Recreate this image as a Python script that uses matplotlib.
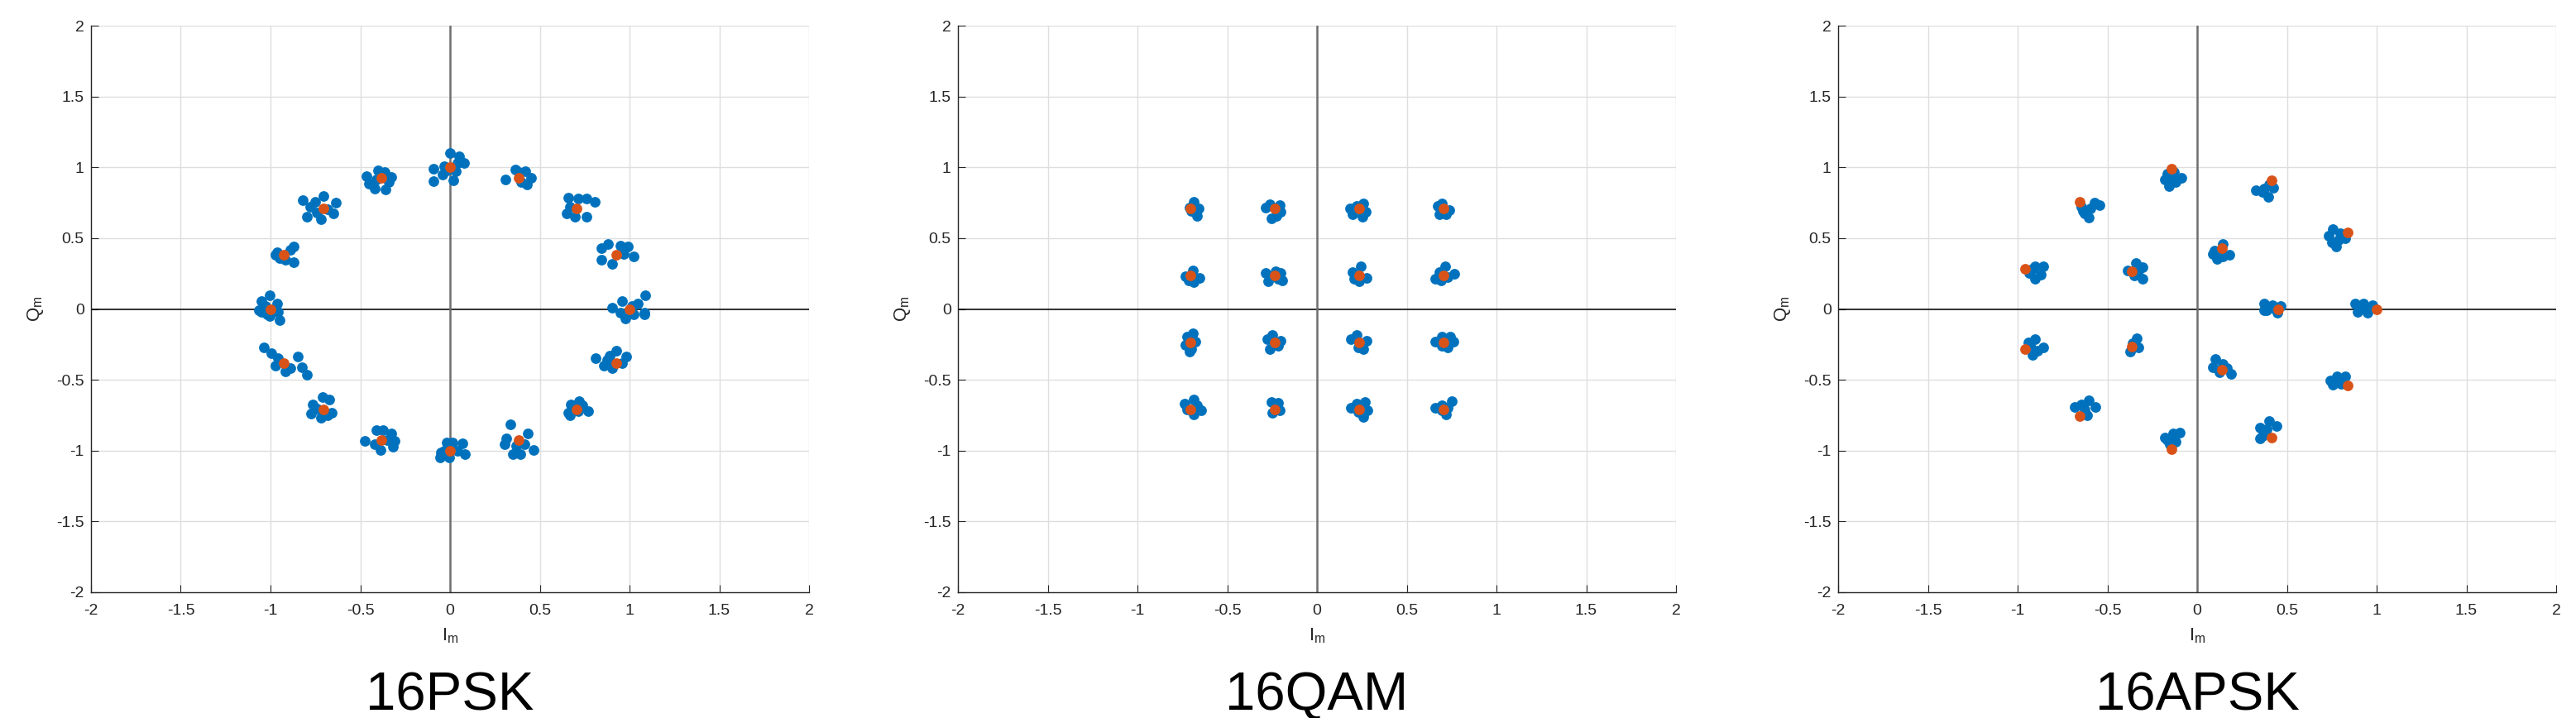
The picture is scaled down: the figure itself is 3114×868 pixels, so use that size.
import matplotlib
matplotlib.use("Agg")
import matplotlib.pyplot as plt

plt.rcParams['font.family'] = ['Liberation Sans', 'DejaVu Sans']
plt.rcParams['mathtext.default'] = 'regular'

# ---- data ----
panel_titles = ["16PSK", "16QAM", "16APSK"]
tick_values = [-2, -1.5, -1, -0.5, 0, 0.5, 1, 1.5, 2]
tick_labels = ["-2", "-1.5", "-1", "-0.5", "0", "0.5", "1", "1.5", "2"]

# 16PSK received samples (I, Q)
psk_rx = [
    # 90 deg
    (0.00, 1.10), (0.05, 1.08), (0.08, 1.03), (0.04, 1.03), (-0.03, 1.01), (-0.09, 0.99),
    (-0.04, 0.95), (0.02, 0.91), (-0.09, 0.90), (-0.02, 0.98), (0.03, 0.97),
    # 112.5 deg
    (-0.465, 0.938), (-0.403, 0.977), (-0.365, 0.969), (-0.329, 0.930), (-0.342, 0.895),
    (-0.360, 0.841), (-0.419, 0.847), (-0.450, 0.886), (-0.411, 0.915), (-0.373, 0.944),
    # 135 deg
    (-0.819, 0.769), (-0.750, 0.755), (-0.704, 0.798), (-0.634, 0.749), (-0.650, 0.672),
    (-0.719, 0.633), (-0.796, 0.652), (-0.781, 0.720), (-0.680, 0.701), (-0.742, 0.681),
    # 157.5 deg
    (-0.965, 0.399), (-0.950, 0.360), (-0.873, 0.438), (-0.888, 0.418), (-0.873, 0.331),
    (-0.919, 0.350), (-0.973, 0.380),
    # 180 deg
    (-1.004, 0.097), (-1.050, 0.058), (-0.965, 0.039), (-1.065, -0.010), (-0.958, -0.020),
    (-1.050, -0.020), (-1.004, -0.049), (-0.950, -0.078), (-1.020, -0.040), (-1.027, 0.020),
    # 202.5 deg
    (-1.035, -0.272), (-0.996, -0.311), (-0.973, -0.399), (-0.919, -0.438), (-0.850, -0.337),
    (-0.827, -0.409), (-0.796, -0.463), (-0.958, -0.350), (-0.888, -0.418),
    # 225 deg
    (-0.765, -0.672), (-0.711, -0.623), (-0.673, -0.642), (-0.657, -0.730), (-0.719, -0.769),
    (-0.773, -0.740), (-0.742, -0.701), (-0.681, -0.749),
    # 247.5 deg
    (-0.473, -0.931), (-0.411, -0.853), (-0.373, -0.857), (-0.326, -0.880), (-0.311, -0.934),
    (-0.319, -0.973), (-0.388, -0.993), (-0.419, -0.954), (-0.350, -0.925),
    # 270 deg
    (-0.057, -1.051), (-0.018, -0.944), (0.012, -0.944), (0.071, -0.950), (0.082, -1.022),
    (0.043, -1.002), (-0.034, -1.002), (-0.003, -1.051), (-0.049, -1.012),
    # 292.5 deg
    (0.336, -0.812), (0.313, -0.911), (0.305, -0.954), (0.351, -1.022), (0.390, -1.022),
    (0.431, -0.880), (0.467, -0.993), (0.413, -0.954), (0.367, -0.964),
    # 315 deg
    (0.659, -0.730), (0.674, -0.672), (0.721, -0.652), (0.770, -0.720), (0.736, -0.681),
    (0.667, -0.749), (0.713, -0.720),
    # 337.5 deg
    (0.813, -0.346), (0.859, -0.399), (0.890, -0.331), (0.928, -0.292), (0.982, -0.335),
    (0.959, -0.380), (0.905, -0.418), (0.874, -0.360),
    # 0 deg
    (0.905, 0.010), (0.959, 0.058), (1.044, 0.039), (1.087, 0.097), (1.082, -0.029),
    (1.013, 0.019), (0.975, -0.068), (1.021, -0.039), (1.082, -0.039), (0.951, -0.029),
    # 22.5 deg
    (0.844, 0.432), (0.882, 0.457), (0.951, 0.448), (0.990, 0.438), (1.021, 0.370),
    (0.902, 0.321), (0.844, 0.346), (0.967, 0.389),
    # 45 deg
    (0.659, 0.788), (0.713, 0.779), (0.759, 0.779), (0.805, 0.759), (0.759, 0.652),
    (0.697, 0.652), (0.651, 0.672), (0.667, 0.720),
    # 67.5 deg
    (0.309, 0.911), (0.366, 0.983), (0.420, 0.973), (0.451, 0.925), (0.428, 0.876),
    (0.397, 0.895), (0.382, 0.964),
]
psk_ref = [
    (1.000, 0.000), (0.924, 0.383), (0.707, 0.707), (0.383, 0.924),
    (0.000, 1.000), (-0.383, 0.924), (-0.707, 0.707), (-0.924, 0.383),
    (-1.000, 0.000), (-0.924, -0.383), (-0.707, -0.707), (-0.383, -0.924),
    (0.000, -1.000), (0.383, -0.924), (0.707, -0.707), (0.924, -0.383),
]

# 16QAM received samples (I, Q)
qam_rx = [
    (-0.687, 0.756), (-0.657, 0.708), (-0.670, 0.656), (-0.700, 0.690), (-0.708, 0.717),
    (-0.286, 0.717), (-0.263, 0.736), (-0.209, 0.733), (-0.201, 0.688), (-0.224, 0.659), (-0.255, 0.640),
    (0.183, 0.707), (0.198, 0.669), (0.252, 0.649), (0.270, 0.688), (0.260, 0.746), (0.221, 0.727),
    (0.674, 0.727), (0.697, 0.746), (0.736, 0.698), (0.720, 0.669), (0.682, 0.669), (0.705, 0.700),
    (-0.731, 0.233), (-0.693, 0.271), (-0.654, 0.217), (-0.685, 0.190), (-0.716, 0.203),
    (-0.286, 0.252), (-0.270, 0.194), (-0.201, 0.252), (-0.194, 0.203), (-0.232, 0.267), (-0.217, 0.213),
    (0.198, 0.262), (0.244, 0.300), (0.275, 0.217), (0.237, 0.194), (0.206, 0.213),
    (0.659, 0.213), (0.682, 0.262), (0.713, 0.300), (0.767, 0.248), (0.728, 0.223), (0.690, 0.203),
    (-0.724, -0.194), (-0.693, -0.174), (-0.677, -0.233), (-0.700, -0.281), (-0.731, -0.252), (-0.708, -0.300),
    (-0.278, -0.213), (-0.247, -0.184), (-0.201, -0.223), (-0.217, -0.262), (-0.263, -0.281),
    (0.190, -0.213), (0.221, -0.184), (0.275, -0.223), (0.260, -0.281), (0.229, -0.271),
    (0.659, -0.233), (0.697, -0.194), (0.743, -0.194), (0.759, -0.233), (0.728, -0.271), (0.697, -0.262),
    (-0.739, -0.669), (-0.685, -0.640), (-0.647, -0.717), (-0.685, -0.746), (-0.724, -0.707), (-0.670, -0.678),
    (-0.255, -0.659), (-0.217, -0.663), (-0.209, -0.717), (-0.247, -0.733), (-0.232, -0.688),
    (0.190, -0.698), (0.221, -0.669), (0.267, -0.659), (0.283, -0.717), (0.260, -0.760), (0.229, -0.727),
    (0.659, -0.698), (0.697, -0.678), (0.751, -0.649), (0.728, -0.698), (0.720, -0.746), (0.697, -0.717),
]
qam_ref = [
    (-0.707, 0.707), (-0.236, 0.707), (0.236, 0.707), (0.707, 0.707),
    (-0.707, 0.236), (-0.236, 0.236), (0.236, 0.236), (0.707, 0.236),
    (-0.707, -0.236), (-0.236, -0.236), (0.236, -0.236), (0.707, -0.236),
    (-0.707, -0.707), (-0.236, -0.707), (0.236, -0.707), (0.707, -0.707),
]

# 16APSK received samples (I, Q)
apsk_rx = [
    (-0.166, 0.955), (-0.128, 0.965), (-0.089, 0.926), (-0.120, 0.897), (-0.158, 0.867),
    (-0.181, 0.916), (-0.143, 0.926),
    (0.326, 0.838), (0.372, 0.848), (0.426, 0.858), (0.395, 0.789), (0.403, 0.877), (0.364, 0.828),
    (-0.643, 0.721), (-0.573, 0.750), (-0.543, 0.731), (-0.627, 0.673), (-0.604, 0.643),
    (-0.596, 0.711), (-0.635, 0.692),
    (0.733, 0.517), (0.756, 0.565), (0.795, 0.536), (0.826, 0.497), (0.772, 0.439),
    (0.749, 0.468), (0.787, 0.487),
    (0.095, 0.409), (0.141, 0.458), (0.180, 0.380), (0.111, 0.351), (0.141, 0.370), (0.088, 0.390),
    (-0.935, 0.253), (-0.904, 0.302), (-0.858, 0.302), (-0.873, 0.244), (-0.904, 0.214), (-0.919, 0.283),
    (-0.389, 0.273), (-0.343, 0.322), (-0.304, 0.292), (-0.304, 0.214), (-0.350, 0.234), (-0.327, 0.273),
    (0.372, 0.039), (0.418, 0.029), (0.464, 0.019), (0.387, -0.010), (0.441, -0.010),
    (0.410, 0.010), (0.372, -0.010), (0.449, -0.029),
    (0.879, 0.039), (0.925, 0.039), (0.979, 0.029), (0.910, 0.000), (0.941, 0.010),
    (0.895, -0.019), (0.948, -0.029),
    (-0.942, -0.234), (-0.904, -0.214), (-0.858, -0.273), (-0.919, -0.322), (-0.889, -0.292), (-0.927, -0.273),
    (-0.335, -0.205), (-0.358, -0.244), (-0.327, -0.273), (-0.374, -0.302), (-0.350, -0.263),
    (0.103, -0.351), (0.088, -0.409), (0.141, -0.390), (0.164, -0.419), (0.188, -0.458), (0.126, -0.448),
    (0.741, -0.507), (0.779, -0.478), (0.826, -0.478), (0.802, -0.526), (0.756, -0.536),
    (-0.681, -0.692), (-0.643, -0.673), (-0.604, -0.643), (-0.566, -0.692), (-0.612, -0.750), (-0.627, -0.711),
    (0.349, -0.838), (0.364, -0.897), (0.403, -0.789), (0.441, -0.828), (0.387, -0.848), (0.349, -0.916),
    (-0.181, -0.906), (-0.135, -0.877), (-0.097, -0.873), (-0.120, -0.936), (-0.151, -0.955), (-0.166, -0.926),
]
apsk_ref = [
    (1.000, 0.000), (0.841, 0.541), (0.415, 0.910), (-0.142, 0.990), (-0.655, 0.756), (-0.959, 0.282),
    (-0.959, -0.282), (-0.655, -0.756), (-0.142, -0.990), (0.415, -0.910), (0.841, -0.541),
    (0.450, 0.000), (0.139, 0.428), (-0.364, 0.265), (-0.364, -0.265), (0.139, -0.428),
]

rx_sets = [psk_rx, qam_rx, apsk_rx]
ref_sets = [psk_ref, qam_ref, apsk_ref]

# ---- figure ----
W, H = 3114, 868
fig = plt.figure(figsize=(W / 100, H / 100), dpi=100)

axes_left_px = [110, 1158, 2222]
ax_w = 868 / W
ax_b = 1 - 716 / H
ax_h = 685 / H

blue = "#0072BD"
orange = "#D95319"
axis_color = "#262626"

for k in range(3):
    ax = fig.add_axes([axes_left_px[k] / W, ax_b, ax_w, ax_h])

    rx_i = [p[0] for p in rx_sets[k]]
    rx_q = [p[1] for p in rx_sets[k]]
    ref_i = [p[0] for p in ref_sets[k]]
    ref_q = [p[1] for p in ref_sets[k]]

    ax.scatter(rx_i, rx_q, s=85, color=blue, linewidths=0, zorder=3)
    ax.scatter(ref_i, ref_q, s=85, color=orange, linewidths=0, zorder=4)

    ax.axhline(0, color="black", linewidth=1.1, zorder=2)
    ax.axvline(0, color="#6f6f6f", linewidth=1.8, zorder=2)

    ax.set_xlim(-2, 2)
    ax.set_ylim(-2, 2)
    ax.set_xticks(tick_values)
    ax.set_xticklabels(tick_labels)
    ax.set_yticks(tick_values)
    ax.set_yticklabels(tick_labels)
    ax.grid(True, color="#dedede", linewidth=1.0, zorder=1)
    ax.set_axisbelow(True)

    ax.spines["top"].set_visible(False)
    ax.spines["right"].set_visible(False)
    for side in ["left", "bottom"]:
        ax.spines[side].set_color(axis_color)
        ax.spines[side].set_linewidth(1.0)

    ax.tick_params(axis="both", direction="in", length=6.5, width=0.8,
                   colors=axis_color, labelsize=14)
    ax.tick_params(axis="x", pad=10)
    ax.tick_params(axis="y", pad=6)

    ax.set_xlabel("$I_m$", fontsize=16, color=axis_color)
    ax.set_ylabel("$Q_m$", fontsize=16, color=axis_color)
    ax.xaxis.set_label_coords(0.5, -0.06)
    ax.yaxis.set_label_coords(-0.063, 0.5)
    ax.xaxis.label.set_va("top")

    ax.text(0.5, -0.2073, panel_titles[k], transform=ax.transAxes,
            ha="center", va="baseline", fontsize=47, color="black")

fig.savefig("out.png", dpi=100)
